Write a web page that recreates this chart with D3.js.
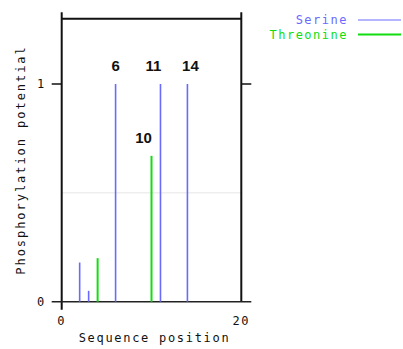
<!DOCTYPE html>
<html><head><meta charset="utf-8">
<script src="https://cdn.jsdelivr.net/npm/d3@7"></script>
<style>body{margin:0;background:#fff}svg{display:block}</style>
</head><body>
<script>
const serinePos = [2, 3, 6, 11, 14];
const serineVal = [0.18, 0.05, 1.0, 1.0, 1.0];
const threoninePos = [4, 10];
const threonineVal = [0.2, 0.67];
const peakLabels = [
  {pos: 6, val: 1.0, text: "6"},
  {pos: 11, val: 1.0, text: "11"},
  {pos: 14, val: 1.0, text: "14"},
  {pos: 10, val: 0.67, text: "10"}
];
const xTicks = [0, 20];
const yTicks = [0, 1];
const threshold = 0.5;
const legendItems = ["Serine", "Threonine"];

const W = 403, H = 349;
const blue = "#6a6aff", green = "#11dd11";
const svg = d3.select("body").append("svg").attr("width", W).attr("height", H);
const x = d3.scaleLinear().domain([0, 20]).range([61.7, 241.3]);
const y = d3.scaleLinear().domain([0, 1]).range([301.7, 84]);
const mono = "'DejaVu Sans Mono', monospace";

// threshold line
svg.append("line").attr("x1", x(0)).attr("x2", x(20)).attr("y1", y(threshold)).attr("y2", y(threshold))
  .attr("stroke", "#e6e6e6").attr("stroke-width", 1);

// frame
svg.append("line").attr("x1", x(0)).attr("x2", x(20)).attr("y1", y(1.3)).attr("y2", y(1.3))
  .attr("stroke", "#111").attr("stroke-width", 2);
svg.append("line").attr("x1", x(0)).attr("x2", x(0)).attr("y1", y(1.33)).attr("y2", y(0) + 8)
  .attr("stroke", "#111").attr("stroke-width", 2);
svg.append("line").attr("x1", x(20)).attr("x2", x(20)).attr("y1", y(1.33)).attr("y2", y(0))
  .attr("stroke", "#111").attr("stroke-width", 2);
// bottom axis
svg.append("line").attr("x1", x(0) - 10).attr("x2", x(20) + 10).attr("y1", y(0)).attr("y2", y(0))
  .attr("stroke", "#222").attr("stroke-width", 1.5);
// y tick at 1
svg.append("line").attr("x1", x(0) - 10).attr("x2", x(0)).attr("y1", y(1)).attr("y2", y(1))
  .attr("stroke", "#111").attr("stroke-width", 1.5);
svg.append("line").attr("x1", x(20)).attr("x2", x(20) + 10).attr("y1", y(1)).attr("y2", y(1))
  .attr("stroke", "#111").attr("stroke-width", 1.5);

// tick labels
svg.selectAll(".xt").data(xTicks).enter().append("text")
  .attr("x", d => x(d)).attr("y", y(0) + 23).attr("text-anchor", "middle")
  .attr("font-family", mono).attr("font-size", 12).attr("letter-spacing", 1.5).attr("fill", "#111").text(d => d);
svg.selectAll(".yt").data(yTicks).enter().append("text")
  .attr("x", x(0) - 21).attr("y", d => y(d) + 4).attr("text-anchor", "middle")
  .attr("font-family", mono).attr("font-size", 12).attr("fill", "#111").text(d => d);

// axis titles
svg.append("text").attr("x", (x(0) + x(20)) / 2 + 3).attr("y", 342).attr("text-anchor", "middle")
  .attr("font-family", mono).attr("font-size", 12).attr("letter-spacing", 1.7).attr("fill", "#111")
  .text("Sequence position");
svg.append("text").attr("transform", "translate(25,160) rotate(-90)").attr("text-anchor", "middle")
  .attr("font-family", mono).attr("font-size", 12).attr("letter-spacing", 1.95).attr("fill", "#111")
  .text("Phosphorylation potential");

// bars
svg.selectAll(".ser").data(serinePos).enter().append("line")
  .attr("x1", d => x(d)).attr("x2", d => x(d)).attr("y1", y(0)).attr("y2", (d, i) => y(serineVal[i]))
  .attr("stroke", blue).attr("stroke-width", 1.6);
svg.selectAll(".thr").data(threoninePos).enter().append("line")
  .attr("x1", d => x(d)).attr("x2", d => x(d)).attr("y1", y(0)).attr("y2", (d, i) => y(threonineVal[i]))
  .attr("stroke", green).attr("stroke-width", 2);

// peak labels
const nudge = {"6": 0, "11": -7, "14": 3, "10": -8};
svg.selectAll(".pl").data(peakLabels).enter().append("text")
  .attr("x", d => x(d.pos) + nudge[d.text]).attr("y", d => y(d.val) - 13)
  .attr("text-anchor", "middle").attr("font-family", "'Liberation Sans', Arial, sans-serif")
  .attr("font-weight", "bold").attr("font-size", 15).attr("fill", "#111").text(d => d.text);

// legend
const legColors = [blue, green];
const lg = svg.selectAll(".lg").data(legendItems).enter().append("g")
  .attr("transform", (d, i) => `translate(0,${20 + i * 14.5})`);
lg.append("text").attr("x", 348).attr("y", 4).attr("text-anchor", "end")
  .attr("font-family", mono).attr("font-size", 12).attr("letter-spacing", 1.5)
  .attr("fill", (d, i) => legColors[i]).text(d => d);
lg.append("line").attr("x1", 358).attr("x2", 401).attr("y1", 0).attr("y2", 0)
  .attr("stroke", (d, i) => legColors[i]).attr("stroke-width", (d, i) => i === 0 ? 1.2 : 2);
</script>
</body></html>
